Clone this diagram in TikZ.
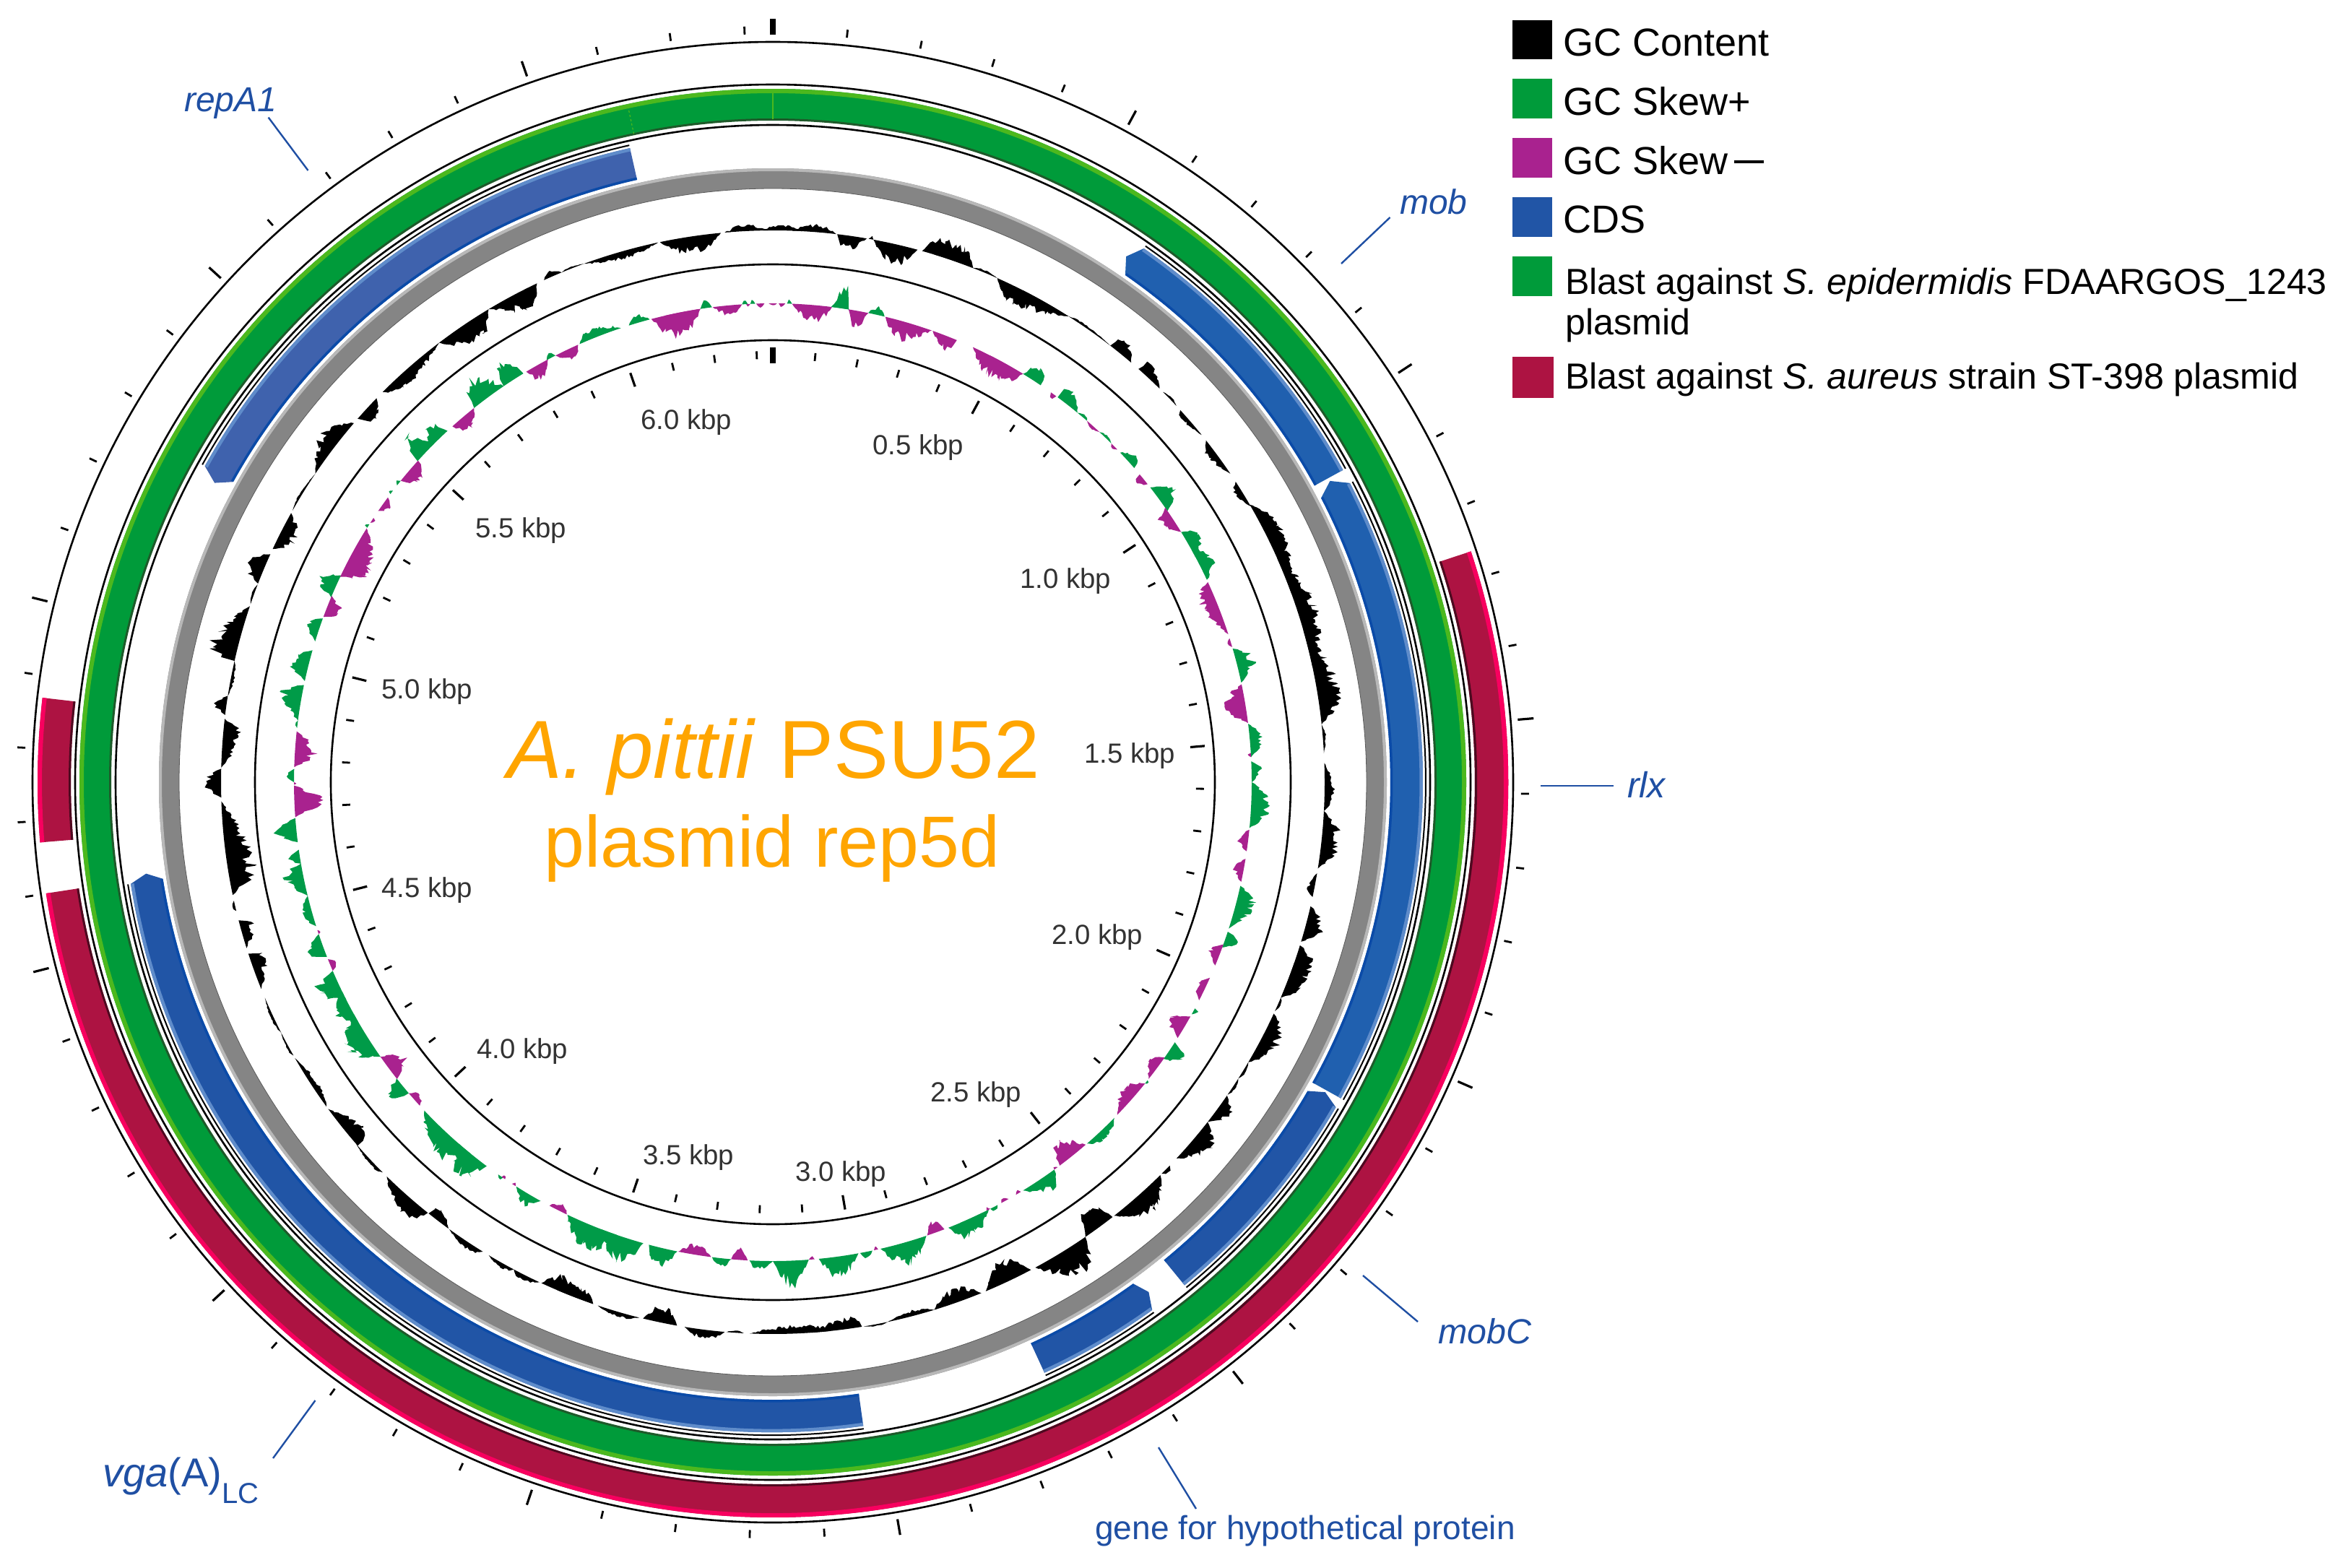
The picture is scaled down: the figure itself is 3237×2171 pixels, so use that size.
\documentclass[tikz,border=0pt]{standalone}
\usepackage{fontspec}
\setmainfont{Liberation Sans}
\definecolor{blastgreen}{HTML}{009B3A}
\definecolor{lightgr}{HTML}{4CB81E}
\definecolor{darkgr}{HTML}{1E5A2A}
\definecolor{crim}{HTML}{AD1342}
\definecolor{pinkedge}{HTML}{F8005F}
\definecolor{darkcrim}{HTML}{4D0A20}
\definecolor{ringgray}{HTML}{858585}
\definecolor{ringlight}{HTML}{B8B8B8}
\definecolor{ringdark}{HTML}{5A5A5A}
\definecolor{skewpl}{HTML}{009B48}
\definecolor{skewmi}{HTML}{A9228F}
\definecolor{cdsa}{HTML}{2060AF}
\definecolor{cdsb}{HTML}{2155A6}
\definecolor{cdsc}{HTML}{3F62AD}
\definecolor{cdsedge}{HTML}{5F8CCA}
\definecolor{cdsdark}{HTML}{0B4BA8}
\definecolor{labelblue}{HTML}{1F4FA3}
\definecolor{titleor}{HTML}{FFA500}
\definecolor{kbpgray}{HTML}{333333}
\newcommand{\sect}[5]{\fill[#1] ({90-(#4)}:#3) arc[start angle={90-(#4)},end angle={90-(#5)},radius=#3 pt] -- ({90-(#5)}:#2) arc[start angle={90-(#5)},end angle={90-(#4)},radius=#2 pt] -- cycle;}
\newcommand{\ring}[3][2.6]{\draw[#3,line width=#1pt] (0,0) circle[radius=#2 pt];}
\newcommand{\lobe}[7]{%
  \pgfmathtruncatemacro\nn{max(4,((#6)-(#3))/0.2)}%
  \fill[#1] plot[samples=\nn,domain=#3:#6] ({90-\x}:{#2+(#7)*sh(\x,#3,#5,#6)*(2-sh(\x,#3,#5,#6))*(0.5+0.5*rnd)}) -- ({90-(#6)}:#2) arc[start angle={90-(#6)},end angle={90-(#3)},radius=#2 pt] -- cycle;}
% cds: fill, flat end, shoulder, tip
\newcommand{\cds}[4]{%
  \fill[#1] ({90-(#2)}:900) arc[start angle={90-(#2)},end angle={90-(#3)},radius=900pt] -- ({90-(#4)}:877) -- ({90-(#3)}:855) arc[start angle={90-(#3)},end angle={90-(#2)},radius=855pt] -- cycle;
  \sect{cdsedge}{895.5}{900}{#3}{#2}
  \sect{cdsdark}{855}{858.5}{#3}{#2}
  \draw[black,line width=2pt] ({90-(#2)}:904) arc[start angle={90-(#2)},end angle={90-(#3)},radius=904pt];}
\newcommand{\redarc}[2]{%
  \sect{crim}{972}{1018}{#1}{#2}
  \sect{pinkedge}{1012}{1018}{#1}{#2}
  \sect{darkcrim}{972}{975}{#1}{#2}}
\tikzset{
  kbp/.style={font=\fontsize{38.4}{40}\selectfont,text=kbpgray,inner sep=0pt,yshift=-4pt},
  gene/.style={text=labelblue,inner sep=0pt,anchor=base west},
  leader/.style={draw=labelblue,line width=2.4pt},
  legbox/.style={inner sep=0pt,minimum width=54.4pt,minimum height=54.4pt},
  legtext/.style={inner sep=0pt,anchor=base west,text=black},
}
\begin{document}
\begin{tikzpicture}[x=1pt,y=1pt,
  declare function={sh(\t,\a,\b,\c)=max(0,min((\t-\a)/(\b-\a+.01),(\c-\t)/(\c-\b+.01)));}]
\pgfmathsetseed{4217}
\useasboundingbox (0,0) rectangle (3237,-2171);
\fill[white] (0,0) rectangle (3237,-2171);
\begin{scope}[shift={(1070,-1083)}]
% rings
\ring{1025}{black}
\ring{966}{black}
\ring{910}{black}
\ring{717}{black}
\ring{612}{black}
% blast green
\sect{blastgreen}{917}{960}{0}{360}
\sect{lightgr}{954}{960}{0}{360}
\sect{darkgr}{916}{919}{0}{360}
\draw[lightgr,line width=1.2pt] (90:918) -- (90:956);
\draw[lightgr,line width=1.2pt,dashed] ({90+12.1}:918) -- ({90+12.1}:956);
% blast red
\redarc{71.7}{261.3}
\redarc{265.3}{276.6}
% gray ring
\sect{ringgray}{822}{850}{0}{360}
\sect{ringlight}{846}{850}{0}{360}
\ring[0.8]{822}{ringdark}
% CDS
\cds{cdsa}{61.3}{34.8}{33.9}
\cds{cdsa}{119.1}{62.6}{61.6}
\cds{cdsb}{140.7}{120}{119.3}
\cds{cdsb}{155.3}{144.3}{143.6}
\cds{cdsb}{172}{261}{261.7}
\cds{cdsc}{347.3}{299.1}{298.2}
% ticks
\foreach \k in {0,...,63}{
  \pgfmathsetmacro\th{90-5.68*\k}
  \pgfmathtruncatemacro\mj{mod(\k,5)==0}
  \ifnum\k=0
    \draw[black,line width=8pt] (\th:1035) -- (\th:1057);
    \draw[black,line width=8pt] (\th:580) -- (\th:602);
  \else\ifnum\mj=1
    \draw[black,line width=3.2pt] (\th:1035) -- (\th:1057);
    \draw[black,line width=3.2pt] (\th:580) -- (\th:600);
  \else
    \draw[black,line width=2.8pt] (\th:1036) -- (\th:1047);
    \draw[black,line width=2.8pt] (\th:586) -- (\th:597);
  \fi\fi
}
% GC content
\foreach \a/\b/\c/\d in {-4.6/-3.5/-0.5/11,-1/1/3/10,2/4.5/6.6/12,6.7/7.6/9.8/-23,10/10.3/10.5/5,10.5/13/15.2/-30,15.7/17.9/21.2/30,17/19.5/21.3/26,21.2/22.5/24/4,24/26/32.4/-27,27/29/32.4/-15,32.4/34/37.7/4,37.7/38.5/40.5/22,41.5/42/44.5/20,45/46/47/4,47.6/48/51/-9,51.7/53/56/-14,57/58/60/-13,59.8/63/70/26,66/72/78/30,74/81/84/33,84/85/87/5,88/91/93/15,93/96/99/29,99.5/101/102/-12,103/105/106.8/28,107.2/109/113/31,109/111/113/24,113/113.5/114.5/6,114.8/117/120.5/29,120.5/121.5/122.5/5,122.5/123.5/124.5/5,124.6/126/128/23,128/129.5/133/30,134/134.5/135.2/8,135.4/138/141.8/33,142/143.8/145.5/-40,145.5/147/151.6/45,152.1/154.2/157.3/-35,157.8/160.5/163/-23,163/165/168/-9,168/169/170.5/3,170.7/171.5/176/-19,174/177/182.4/-14,183/184/184.8/-4,185/187/189.2/15,190/191.6/193.6/-27,194/196/198.5/8,199/203/204.8/-24,199/200/203/-16,205/207/208/10,208/209/211/8,211.7/213/215.9/11,216/218/218.6/-17,218.7/220/224.4/27,225/226/229/6,228.8/229.5/233.7/-25,234/236/240/-11,240.3/241/243/4,243/244.5/247/5,248/251.5/251.9/-25,252.5/255/255.5/-20,256.5/257/257.6/7,258.2/260.5/268/-41,268.4/270/271.4/26,271.5/275.3/276.6/-25,277/278/279/18,279/281/282.7/-6,282.7/283.4/288.6/42,288.8/290/291/4,291.1/292.7/294.4/30,295/296.8/299.2/-26,299.5/301/304/4,304/308/310.6/29,311.2/312.5/314.1/-23,315/317/322.8/-20,322.8/326.5/329/-35,329/333/334.7/-29,335.5/336.3/337.5/9,337.5/338.5/340/3,340/344/348/-12,348.2/351.5/354.6/-28,355/355.3/355.6/3}{
  \lobe{black}{764}{\a}{\a}{\b}{\c}{\d}
}
% GC skew +
\foreach \a/\b/\c/\d in {351.3/352/352.7/15,356.3/356.6/357/6,357.3/357.5/357.9/7,1.7/2/2.3/7,7.1/8.5/9.1/36,7/8/9.2/9,11.5/12.5/13.5/13,31.5/33/34/27,36.5/37/39.5/26,39.5/40.5/41/5,43/44/45/5,46.5/48.3/49/16,52/54/55.5/29,58.5/60/62/26,61/63/65/24,73.8/75.5/78/28,83/84.8/87/19,87.5/88.5/90/15,90/92.5/95.5/30,102.5/104/107.8/28,108.2/109/110.2/21,118.2/118.5/119/8,122.9/123.8/125.3/26,128.5/128.7/129/4,134.5/137/139/15,144/145/148.5/24,152/152.5/153/7,153.2/157/158.5/30,154/155/157/20,161.3/164/167/34,168/168.7/169.5/10,169.7/172.3/174.5/32,175.7/177.8/180/40,180/182/182.8/14,185/186/187.3/14,191.5/193.5/195/32,195.7/198/201/40,199/202/205.4/38,209/210.5/212.4/19,214.3/214.6/215/5,216.7/219/221/38,219/222/226.7/36,229.5/230.4/231.8/27,235/238/241/38,240/242/244/26,243/245.5/246.8/36,248.6/249.5/251.5/29,252.5/254/256.3/16,256.3/259/260.2/29,260.2/261/261.9/19,262.8/264.5/265.7/35,270/270.8/271.6/13,276.5/277/277.4/5,277.4/280.6/281.7/32,282.2/284.2/286/29,287.1/288.8/290/21,292.7/294.2/295.6/29,302.1/302.3/302.6/6,307/307.2/307.5/5,308.3/308.9/309/8,312.1/313/315/44,314.5/315.8/317.2/28,321.4/322.5/325.8/40,325.8/326.8/328.6/35,331.8/332.3/333/10,336.2/338/341.5/16,342.5/343.5/345.1/13}{
  \lobe{skewpl}{663}{\a}{\a}{\b}{\c}{\d}
}
% GC skew -
\foreach \a/\b/\c/\d in {345.3/347.5/351.3/-36,347/349.5/351.3/-28,352.8/355/356.3/-16,356.8/357/357.3/-4,358/358.5/359/-10,-0.5/0/0.5/-4,0.7/1/1.5/-8,2.3/5.1/7.1/-27,9.1/10.4/11.5/-30,13.6/15.5/19.4/-29,19.5/21.7/22.6/-21,24.7/28/31.5/-29,27/29.7/31.5/-27,35.5/35.9/36.3/-10,41/42/43/-5,45/45.5/46/-5,50/50.5/51.5/-14,55/56/58.5/-22,65.3/67/72/-25,72.5/73/73.6/-6,78.2/80.4/82.9/-32,86.5/86.8/87/-6,95.7/97/98.3/-16,99.2/100.5/102/-16,109.8/111/112.5/-19,114.1/115.5/117.1/-14,119.3/120.5/122.3/-27,125.1/126/128.3/-18,129/131/134/-22,139.2/141.9/143.2/-32,143.5/143.9/144/-5,148.8/149/149.5/-8,150.5/151/151.5/-8,153/153.3/153.5/-5,159/160/161.2/-19,167.3/167.5/167.8/-6,175/175.3/175.7/-6,183/184/185/-18,187.4/189.5/191.4/-16,205.5/206.5/207.8/-13,212.5/212.8/213/-6,214/214.2/214.5/-5,227.5/228.6/229.5/-13,231.7/233/235/-30,246.8/247.5/248.3/-13,251.5/251.7/252/-5,265.8/267.7/269.6/-44,269.7/269.9/270/-5,271.8/273.6/276.1/-32,290.2/291.3/292.9/-24,295.4/297/302/-40,295.4/298.5/302/-32,302.8/303.2/303.5/-5,304.5/305.8/306.5/-13,309/310.7/312.2/-29,318/319.4/321.4/-22,329/330/332/-22,333/335/336/-19}{
  \lobe{skewmi}{663}{\a}{\a}{\b}{\c}{\d}
}
\end{scope}
% scale labels
\node[kbp] (k05) at (1271,-616) {0.5 kbp};
\node[kbp] (k10) at (1475,-801) {1.0 kbp};
\node[kbp] (k15) at (1564,-1043) {1.5 kbp};
\node[kbp] (k20) at (1519,-1294) {2.0 kbp};
\node[kbp] (k25) at (1351,-1512) {2.5 kbp};
\node[kbp] (k30) at (1164,-1622) {3.0 kbp};
\node[kbp] (k35) at (953,-1599) {3.5 kbp};
\node[kbp] (k40) at (723,-1452) {4.0 kbp};
\node[kbp] (k45) at (591,-1229) {4.5 kbp};
\node[kbp] (k50) at (591,-954) {5.0 kbp};
\node[kbp] (k55) at (721,-731) {5.5 kbp};
\node[kbp] (k60) at (950,-581) {6.0 kbp};
% title
\node[inner sep=0pt,anchor=base,text=titleor,font=\fontsize{114}{116}\selectfont] (title1) at (1071,-1077) {\textit{A. pittii} PSU52};
\node[inner sep=0pt,anchor=base,text=titleor,font=\fontsize{100.4}{102}\selectfont] (title2) at (1069,-1200) {plasmid rep5d};
% gene labels
\node[gene,font=\fontsize{48}{50}\selectfont\itshape] (repA) at (255,-154) {repA1};
\node[gene,font=\fontsize{48}{50}\selectfont\itshape] (mob) at (1938,-296.5) {mob};
\node[gene,font=\fontsize{50}{52}\selectfont\itshape] (rlx) at (2253,-1104) {rlx};
\node[gene,font=\fontsize{48.4}{50}\selectfont\itshape] (mobC) at (1991,-1860) {mobC};
\node[gene,font=\fontsize{46.1}{48}\selectfont] (hyp) at (1516,-2131) {gene for hypothetical protein};
\node[gene,font=\fontsize{56}{58}\selectfont] (vga) at (142,-2058) {\textit{vga}(A)\raisebox{-23pt}{\fontsize{40}{42}\selectfont LC}};
\coordinate (repAa) at (371.6,-162.6); \coordinate (repAb) at (426.5,-236);
\coordinate (moba) at (1924.5,-301); \coordinate (mobb) at (1857,-365);
\coordinate (rlxa) at (2234,-1088); \coordinate (rlxb) at (2133,-1088);
\coordinate (mobCa) at (1963,-1830); \coordinate (mobCb) at (1887,-1766);
\coordinate (hypa) at (1656,-2089); \coordinate (hypb) at (1604,-2004);
\coordinate (vgaa) at (378,-2019); \coordinate (vgab) at (436.5,-1939);
\draw[leader] (repAa) -- (repAb);
\draw[leader] (moba) -- (mobb);
\draw[leader] (rlxa) -- (rlxb);
\draw[leader] (mobCa) -- (mobCb);
\draw[leader] (hypa) -- (hypb);
\draw[leader] (vgaa) -- (vgab);
% legend
\node[legbox,fill=black,anchor=north west] (l1) at (2094,-27.7) {};
\node[legbox,fill=blastgreen,anchor=north west] (l2) at (2094,-109) {};
\node[legbox,fill=skewmi,anchor=north west] (l3) at (2094,-191) {};
\node[legbox,fill=cdsb,anchor=north west] (l4) at (2094,-273) {};
\node[legbox,fill=blastgreen,anchor=north west] (l5) at (2094,-355) {};
\node[legbox,fill=crim,anchor=north west,minimum width=56.5pt,minimum height=57pt] (l6) at (2094,-493.5) {};
\node[legtext,font=\fontsize{54}{56}\selectfont] (t1) at (2164,-77) {GC Content};
\node[legtext,font=\fontsize{54}{56}\selectfont] (t2) at (2164,-159) {GC Skew+};
\node[legtext,font=\fontsize{54}{56}\selectfont] (t3) at (2164,-241) {GC Skew\,\raisebox{6pt}{\fontsize{41}{42}\selectfont\bfseries —}};
\node[legtext,font=\fontsize{54}{56}\selectfont] (t4) at (2164,-322.6) {CDS};
\node[legtext,font=\fontsize{50.2}{52}\selectfont] (t5) at (2167,-407) {Blast against \textit{S. epidermidis} FDAARGOS\_1243};
\node[legtext,font=\fontsize{50.2}{52}\selectfont] (t5b) at (2167,-463) {plasmid};
\node[legtext,font=\fontsize{50.2}{52}\selectfont] (t6) at (2167,-538) {Blast against \textit{S. aureus} strain ST-398 plasmid};
\end{tikzpicture}
\end{document}
